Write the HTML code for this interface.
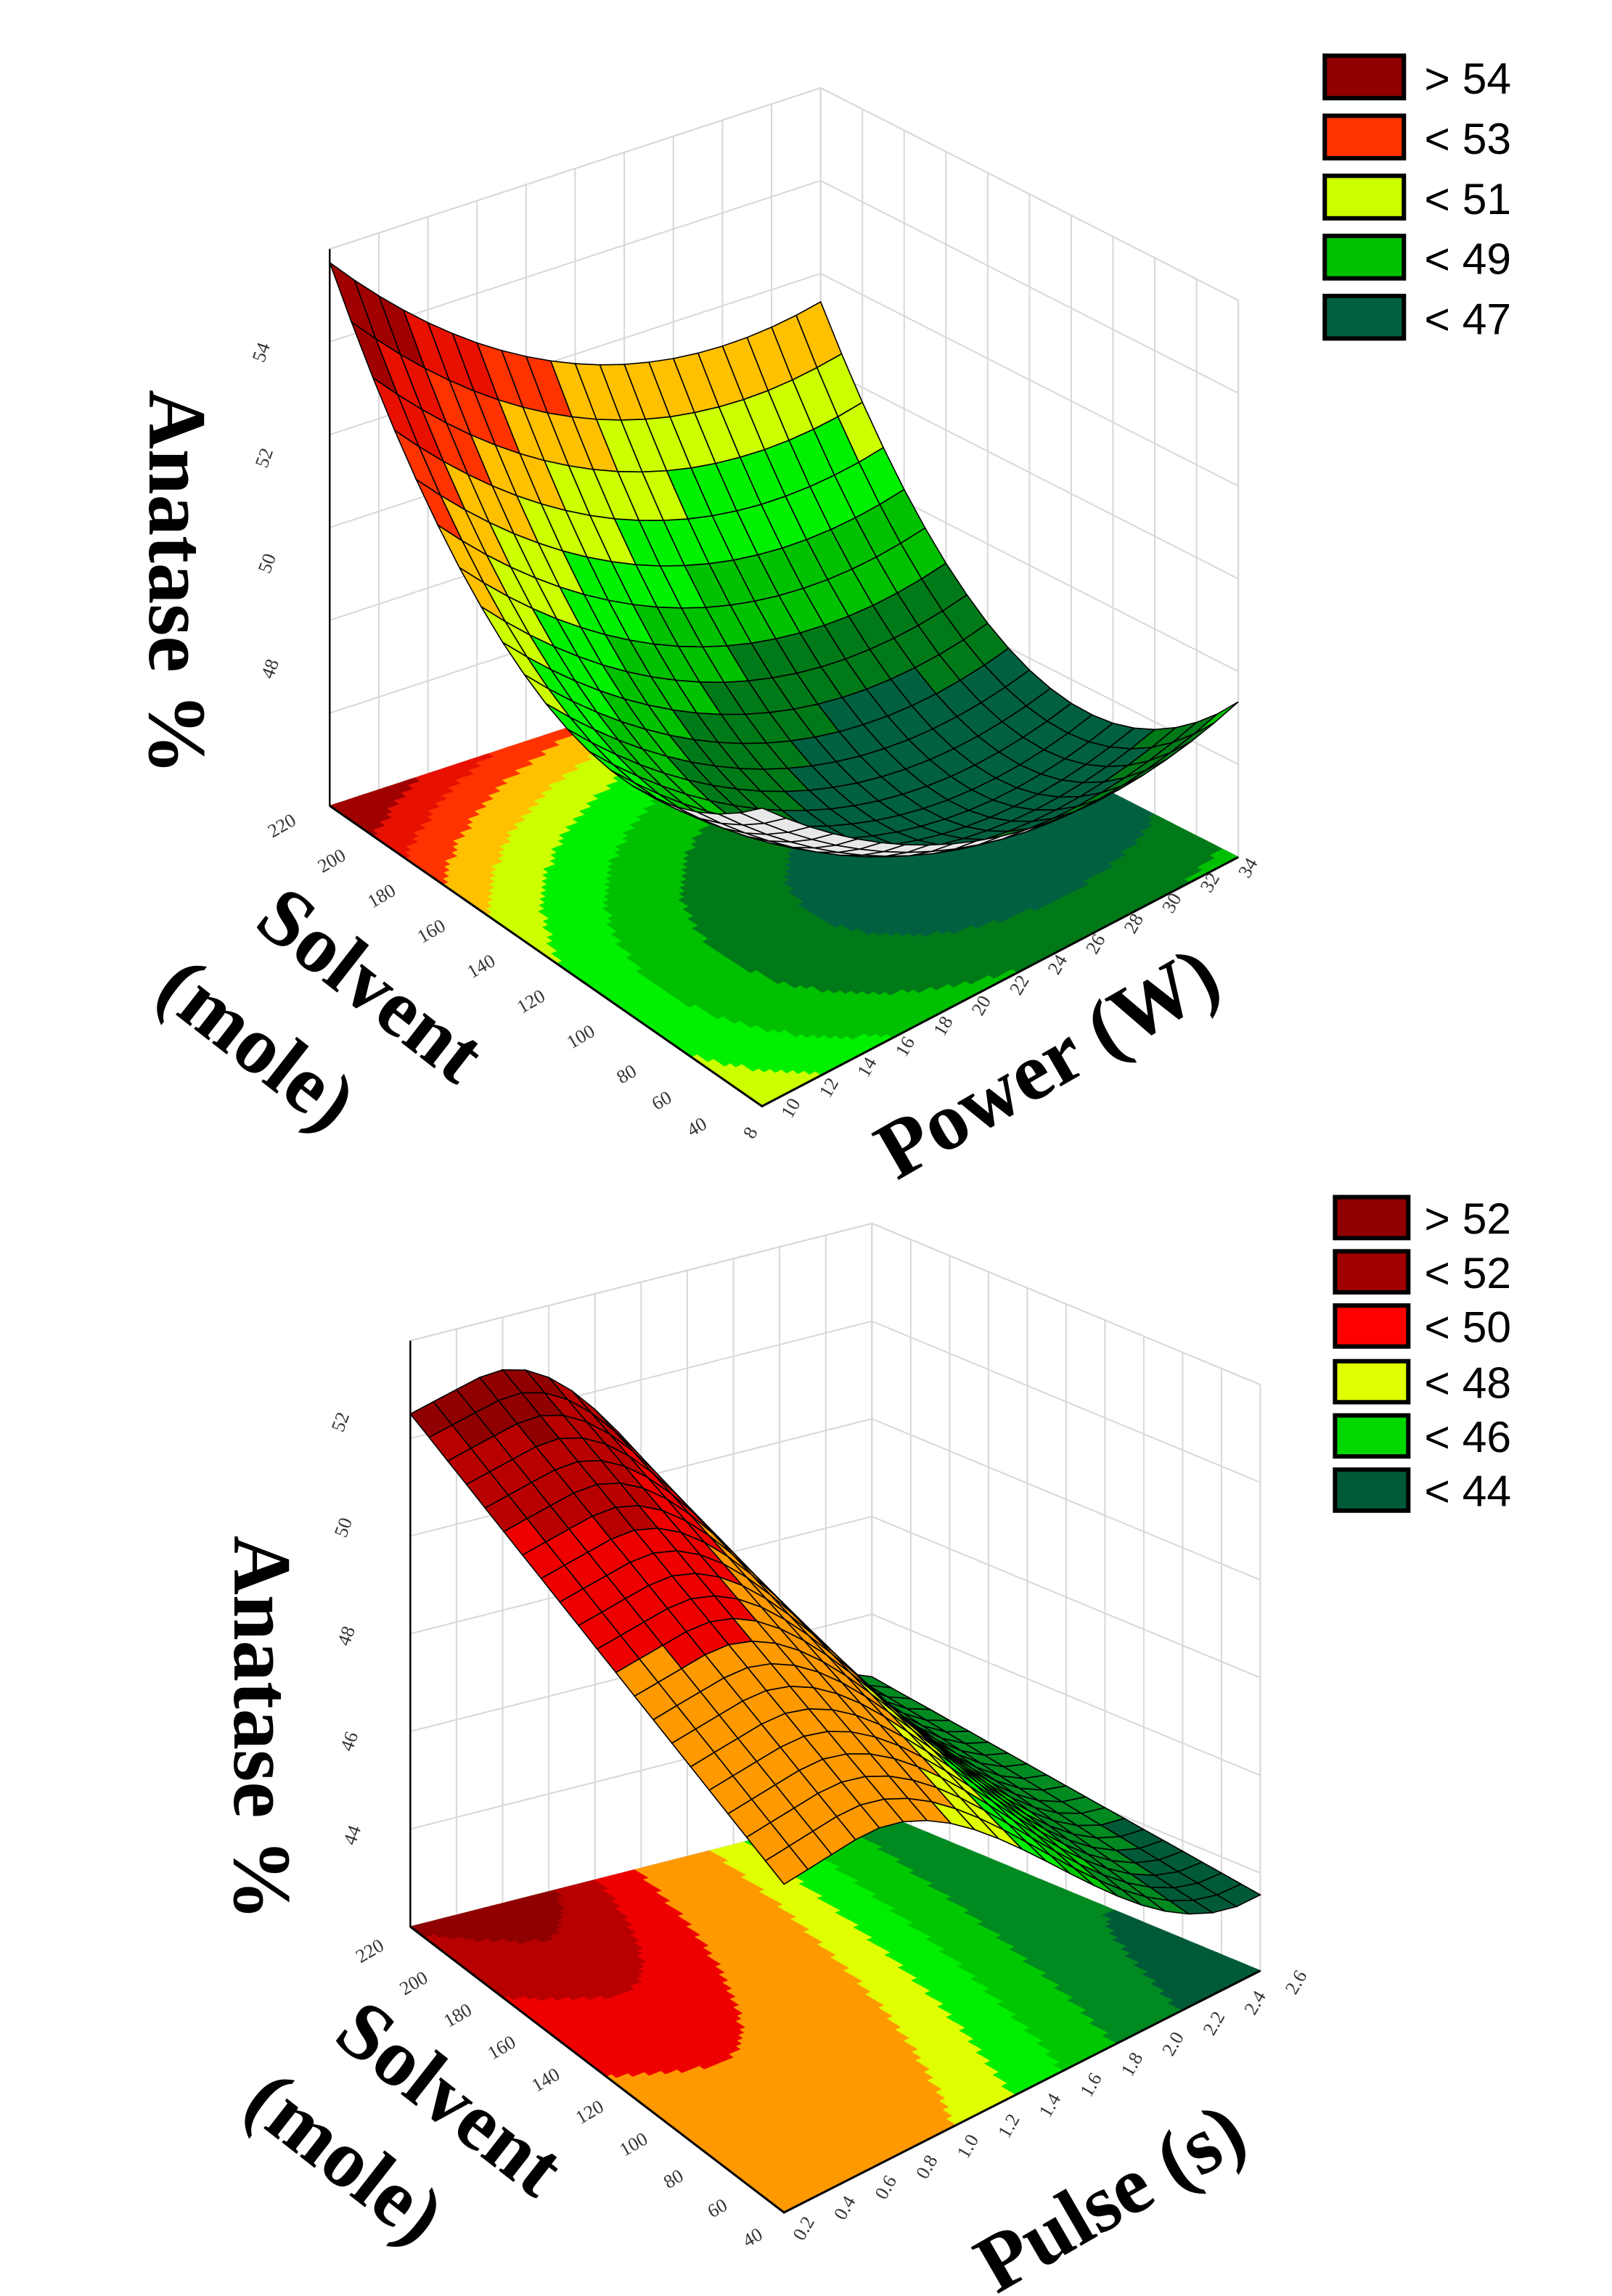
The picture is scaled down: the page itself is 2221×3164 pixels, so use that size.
<!DOCTYPE html>
<html><head><meta charset="utf-8">
<style>
html,body{margin:0;padding:0;background:#fff;}
svg{display:block;}
.tk{font-family:"Liberation Serif",serif;font-size:13px;fill:#333;}
.ax{font-family:"Liberation Serif",serif;font-weight:bold;font-size:56px;fill:#000;}
.lg{font-family:"Liberation Sans",sans-serif;font-size:30px;fill:#000;}
</style></head>
<body>
<svg id="s" width="2221" height="3164" viewBox="0 0 1100 1567" preserveAspectRatio="none" xmlns="http://www.w3.org/2000/svg">
<g id="top"></g>
<g id="bot"></g>
<g>
<rect x="904" y="38" width="54" height="29" fill="#900000" stroke="#000" stroke-width="3"/>
<rect x="904" y="79" width="54" height="29" fill="#ff3300" stroke="#000" stroke-width="3"/>
<rect x="904" y="120" width="54" height="29" fill="#ccff00" stroke="#000" stroke-width="3"/>
<rect x="904" y="161" width="54" height="29" fill="#00c000" stroke="#000" stroke-width="3"/>
<rect x="904" y="202" width="54" height="29" fill="#006040" stroke="#000" stroke-width="3"/>
<text class="lg" x="972" y="64">&gt; 54</text>
<text class="lg" x="972" y="105">&lt; 53</text>
<text class="lg" x="972" y="146">&lt; 51</text>
<text class="lg" x="972" y="187">&lt; 49</text>
<text class="lg" x="972" y="228">&lt; 47</text>
</g>
<g>
<rect x="911" y="817" width="50" height="28" fill="#900000" stroke="#000" stroke-width="3"/>
<rect x="911" y="854" width="50" height="28" fill="#a00000" stroke="#000" stroke-width="3"/>
<rect x="911" y="891" width="50" height="28" fill="#ff0000" stroke="#000" stroke-width="3"/>
<rect x="911" y="929" width="50" height="28" fill="#e0ff00" stroke="#000" stroke-width="3"/>
<rect x="911" y="966" width="50" height="28" fill="#00d800" stroke="#000" stroke-width="3"/>
<rect x="911" y="1003" width="50" height="28" fill="#005a38" stroke="#000" stroke-width="3"/>
<text class="lg" x="972" y="842">&gt; 52</text>
<text class="lg" x="972" y="879">&lt; 52</text>
<text class="lg" x="972" y="916">&lt; 50</text>
<text class="lg" x="972" y="954">&lt; 48</text>
<text class="lg" x="972" y="991">&lt; 46</text>
<text class="lg" x="972" y="1028">&lt; 44</text>
</g>
<text class="ax" transform="translate(102,266) rotate(90)">Anatase %</text>
<text class="ax" transform="translate(172,632) rotate(38)">Solvent</text>
<text class="ax" transform="translate(104,680) rotate(38)">(mole)</text>
<text class="ax" transform="translate(612,806) rotate(-30)">Power (W)</text>
<text class="ax" transform="translate(160,1048) rotate(90)">Anatase %</text>
<text class="ax" transform="translate(226,1392) rotate(38)">Solvent</text>
<text class="ax" transform="translate(164,1440) rotate(38)">(mole)</text>
<text class="ax" transform="translate(680,1566) rotate(-30)">Pulse (s)</text>
<g class="tk">
<text transform="translate(180,248) rotate(-70)">54</text>
<text transform="translate(182,320) rotate(-70)">52</text>
<text transform="translate(184,392) rotate(-70)">50</text>
<text transform="translate(186,464) rotate(-70)">48</text>
<text transform="translate(186,572) rotate(-30)">220</text>
<text transform="translate(220,596) rotate(-30)">200</text>
<text transform="translate(254,620) rotate(-30)">180</text>
<text transform="translate(288,644) rotate(-30)">160</text>
<text transform="translate(322,668) rotate(-30)">140</text>
<text transform="translate(356,692) rotate(-30)">120</text>
<text transform="translate(390,716) rotate(-30)">100</text>
<text transform="translate(424,740) rotate(-30)">80</text>
<text transform="translate(448,758) rotate(-30)">60</text>
<text transform="translate(472,776) rotate(-30)">40</text>
<text transform="translate(514,778) rotate(-60)">8</text>
<text transform="translate(540,764) rotate(-60)">10</text>
<text transform="translate(566,750) rotate(-60)">12</text>
<text transform="translate(592,736) rotate(-60)">14</text>
<text transform="translate(618,722) rotate(-60)">16</text>
<text transform="translate(644,708) rotate(-60)">18</text>
<text transform="translate(670,694) rotate(-60)">20</text>
<text transform="translate(696,680) rotate(-60)">22</text>
<text transform="translate(722,666) rotate(-60)">24</text>
<text transform="translate(748,652) rotate(-60)">26</text>
<text transform="translate(774,638) rotate(-60)">28</text>
<text transform="translate(800,624) rotate(-60)">30</text>
<text transform="translate(826,610) rotate(-60)">32</text>
<text transform="translate(852,600) rotate(-60)">34</text>
</g>
<g class="tk">
<text transform="translate(234,978) rotate(-70)">52</text>
<text transform="translate(236,1050) rotate(-70)">50</text>
<text transform="translate(238,1124) rotate(-70)">48</text>
<text transform="translate(240,1196) rotate(-70)">46</text>
<text transform="translate(242,1260) rotate(-70)">44</text>
<text transform="translate(246,1340) rotate(-30)">220</text>
<text transform="translate(276,1362) rotate(-30)">200</text>
<text transform="translate(306,1384) rotate(-30)">180</text>
<text transform="translate(336,1406) rotate(-30)">160</text>
<text transform="translate(366,1428) rotate(-30)">140</text>
<text transform="translate(396,1450) rotate(-30)">120</text>
<text transform="translate(426,1472) rotate(-30)">100</text>
<text transform="translate(456,1494) rotate(-30)">80</text>
<text transform="translate(486,1514) rotate(-30)">60</text>
<text transform="translate(510,1534) rotate(-30)">40</text>
<text transform="translate(548,1530) rotate(-60)">0.2</text>
<text transform="translate(576,1516) rotate(-60)">0.4</text>
<text transform="translate(604,1502) rotate(-60)">0.6</text>
<text transform="translate(632,1488) rotate(-60)">0.8</text>
<text transform="translate(660,1474) rotate(-60)">1.0</text>
<text transform="translate(688,1460) rotate(-60)">1.2</text>
<text transform="translate(716,1446) rotate(-60)">1.4</text>
<text transform="translate(744,1432) rotate(-60)">1.6</text>
<text transform="translate(772,1418) rotate(-60)">1.8</text>
<text transform="translate(800,1404) rotate(-60)">2.0</text>
<text transform="translate(828,1390) rotate(-60)">2.2</text>
<text transform="translate(856,1376) rotate(-60)">2.4</text>
<text transform="translate(884,1362) rotate(-60)">2.6</text>
</g>
</svg>
<script>
(function(){
var NS="http://www.w3.org/2000/svg";
function el(p,t,a){var e=document.createElementNS(NS,t);for(var k in a)e.setAttribute(k,a[k]);p.appendChild(e);return e;}
function lerp(a,b,t){return [a[0]+(b[0]-a[0])*t,a[1]+(b[1]-a[1])*t];}
function draw(g,cfg){
  var P00=cfg.P00,P10=cfg.P10,P01=cfg.P01,P11=cfg.P11,H=cfg.H;
  function F(u,v){var a=lerp(P00,P10,u),b=lerp(P01,P11,u);return lerp(a,b,v);}
  function S(u,v,z){var f=F(u,v);return [f[0],f[1]-(z-cfg.z0)*cfg.k];}
  var pts=function(a){return a.map(function(p){return p[0].toFixed(1)+","+p[1].toFixed(1);}).join(" ");};
  var gr="#d8d8d8";
  el(g,"polygon",{points:pts([P00,P01,[P01[0],P01[1]-H],[P00[0],P00[1]-H]]),fill:"#fff",stroke:gr});
  el(g,"polygon",{points:pts([P01,P11,[P11[0],P11[1]-H],[P01[0],P01[1]-H]]),fill:"#fff",stroke:gr});
  var N=10,i;
  for(i=0;i<=N;i++){var t=i/N;
    var a=lerp(P00,P01,t);el(g,"line",{x1:a[0],y1:a[1],x2:a[0],y2:a[1]-H,stroke:gr,"stroke-width":1});
    var b=lerp(P01,P11,t);el(g,"line",{x1:b[0],y1:b[1],x2:b[0],y2:b[1]-H,stroke:gr,"stroke-width":1});
  }
  for(i=0;i<=6;i++){var h=H*i/6;
    el(g,"polyline",{points:pts([[P00[0],P00[1]-h],[P01[0],P01[1]-h],[P11[0],P11[1]-h]]),fill:"none",stroke:gr});}
  var M=80;
  for(i=0;i<M;i++)for(var j=0;j<M;j++){
    var u=(i+.5)/M,v=(j+.5)/M;
    el(g,"polygon",{points:pts([F(i/M,j/M),F((i+1)/M,j/M),F((i+1)/M,(j+1)/M),F(i/M,(j+1)/M)]),fill:cfg.col(cfg.z(u,v)),stroke:cfg.col(cfg.z(u,v)),"stroke-width":0.6});
  }
  el(g,"polyline",{points:pts([P00,P10,P11]),fill:"none",stroke:"#000","stroke-width":1.5});
  el(g,"line",{x1:P00[0],y1:P00[1],x2:P00[0],y2:P00[1]-H,stroke:"#000","stroke-width":1.2});
  var R=20,cells=[];
  for(i=0;i<R;i++)for(var j2=0;j2<R;j2++){
    var u0=i/R,u1=(i+1)/R,v0=j2/R,v1=(j2+1)/R;
    var c=[S(u0,v0,cfg.z(u0,v0)),S(u1,v0,cfg.z(u1,v0)),S(u1,v1,cfg.z(u1,v1)),S(u0,v1,cfg.z(u0,v1))];
    var zc=cfg.z((u0+u1)/2,(v0+v1)/2);
    var ar=(c[1][0]-c[0][0])*(c[3][1]-c[0][1])-(c[1][1]-c[0][1])*(c[3][0]-c[0][0]);
    cells.push({c:c,z:zc,d:(u0+u1)/2-(v0+v1)/2,back:ar>0});
  }
  cells.sort(function(a,b){return a.d-b.d;});
  cells.forEach(function(o){
    el(g,"polygon",{points:pts(o.c),fill:o.back?"#e8e8e8":cfg.col(o.z),stroke:"#000","stroke-width":0.8});
  });
}
draw(document.getElementById("top"),{
  P00:[225,550],P10:[520,755],P01:[560,440],P11:[845,585],H:380,z0:45.4,k:36,
  z:function(u,v){var a=u-0.65,b=v-0.75;return 46.3+12.76*a*a+6.18*b*b+1.09*a*b;},
  col:function(z){if(z>54)return"#a00000";if(z>53)return"#e81000";if(z>52)return"#ff3300";if(z>51)return"#ffc000";if(z>50)return"#ccff00";if(z>49)return"#00f000";if(z>48)return"#00c000";if(z>47)return"#007a18";return"#006040";}
});
draw(document.getElementById("bot"),{
  P00:[280,1315],P10:[535,1510],P01:[595,1235],P11:[860,1345],H:400,z0:42.1,k:35,
  z:function(u,v){var w=Math.max(0,Math.min(1,(v-0.15)/0.85));var s=w*w*(3-2*w);return 52.1-3.6*u*(1-0.3*v)-(8-2*u)*s+1.0*Math.sin(Math.PI*v*0.8)*(1-u);},
  col:function(z){if(z>52)return"#900000";if(z>51.2)return"#b80000";if(z>50.2)return"#ee0000";if(z>48)return"#ff9900";if(z>47)return"#e0ff00";if(z>46)return"#00ee00";if(z>45)return"#00c800";if(z>44)return"#008a20";return"#005a38";}
});
})();
</script>
</body></html>
